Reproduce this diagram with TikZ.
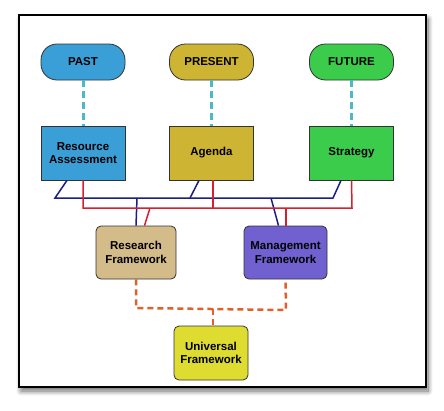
\documentclass[tikz,border=0pt]{standalone}
\usepackage[svgnames]{xcolor}
\usepackage{fontspec}
\setmainfont{Liberation Sans}
\usepackage{tikz}
\usetikzlibrary{shadows.blur}
\definecolor{pastblue}{HTML}{3A9FD6}
\definecolor{presgold}{HTML}{CDB433}
\definecolor{futgreen}{HTML}{3BCC4B}
\definecolor{restan}{HTML}{D4BB8A}
\definecolor{mgmtpurple}{HTML}{7060D0}
\definecolor{univyellow}{HTML}{DEDC30}
\definecolor{linkteal}{HTML}{4BB9C6}
\definecolor{linkorange}{HTML}{E0602A}
\definecolor{wireblue}{HTML}{1A1F85}
\definecolor{wirered}{HTML}{D42030}

\begin{document}
\begin{tikzpicture}[x=1pt,y=-1pt,
  font=\fontsize{11.5}{13.5}\selectfont\bfseries,
  pill/.style={draw=black!80,thick,rounded corners=16pt,minimum width=84pt,minimum height=36pt},
  phase/.style={draw=black!80,thick,minimum width=84pt,minimum height=54pt,align=center},
  frame/.style={draw=black!80,thick,rounded corners=5pt,minimum height=53pt,align=center},
  timelink/.style={linkteal,line width=3pt,dash pattern=on 7pt off 4pt},
  unilink/.style={linkorange,line width=2.5pt,dash pattern=on 6pt off 4pt},
  bwire/.style={wireblue,line width=1.5pt},
  rwire/.style={wirered,line width=1.5pt}]
\useasboundingbox (0,0) rectangle (444,410);
\draw[black,line width=1.2pt,fill=white,blur shadow={shadow xshift=2pt,shadow yshift=-4pt,shadow blur steps=10,shadow blur radius=5pt,shadow opacity=60}] (19,15) rectangle (426,387);

% time line
\node[pill,fill=pastblue] (past) at (83,62) {PAST};
\node[pill,fill=presgold] (present) at (211.5,62) {PRESENT};
\node[pill,fill=futgreen] (future) at (351.5,62) {FUTURE};

\node[phase,fill=pastblue] (resource) at (83,153) {Resource\\Assessment};
\node[phase,fill=presgold] (agenda) at (211.5,153) {Agenda};
\node[phase,fill=futgreen] (strategy) at (351.5,153) {Strategy};

\node[frame,fill=restan,minimum width=80pt] (research) at (136,252.5) {Research\\Framework};
\node[frame,fill=mgmtpurple,minimum width=83pt] (management) at (285.5,252.5) {Management\\Framework};
\node[frame,fill=univyellow,minimum width=74pt,minimum height=54pt] (universal) at (211,353) {Universal\\Framework};

\draw[timelink] (past) -- (resource);
\draw[timelink] (present) -- (agenda);
\draw[timelink] (future) -- (strategy);

% wiring
\coordinate (bl) at (55,198);
\coordinate (br) at (333,198);
\coordinate (rl) at (83,208);
\coordinate (rr) at (352,208);
\draw[bwire] ([xshift=-16pt]resource.south) -- (bl) -- (br) -- ([xshift=-10.5pt]strategy.south);
\draw[bwire] ([xshift=-12.5pt]agenda.south) -- (190,198);
\draw[bwire] (137,198) -- (research.north);
\draw[bwire] (271,198) -- ([xshift=-7pt]management.north);
\draw[rwire] (resource.south) -- (rl) -- (rr) -- (strategy.south);
\draw[rwire] ([xshift=1.5pt]agenda.south) -- (213,208);
\draw[rwire] (150,208) -- ([xshift=8.5pt]research.north);
\draw[rwire] (286,208) -- ([xshift=0.5pt]management.north);

\coordinate (ul) at (136,308);
\coordinate (ur) at (286,310);
\draw[unilink] (research.south) -- (ul) -- (ur) -- (management.south);
\draw[unilink] (213,309) -- ([xshift=2pt]universal.north);
\end{tikzpicture}
\end{document}
